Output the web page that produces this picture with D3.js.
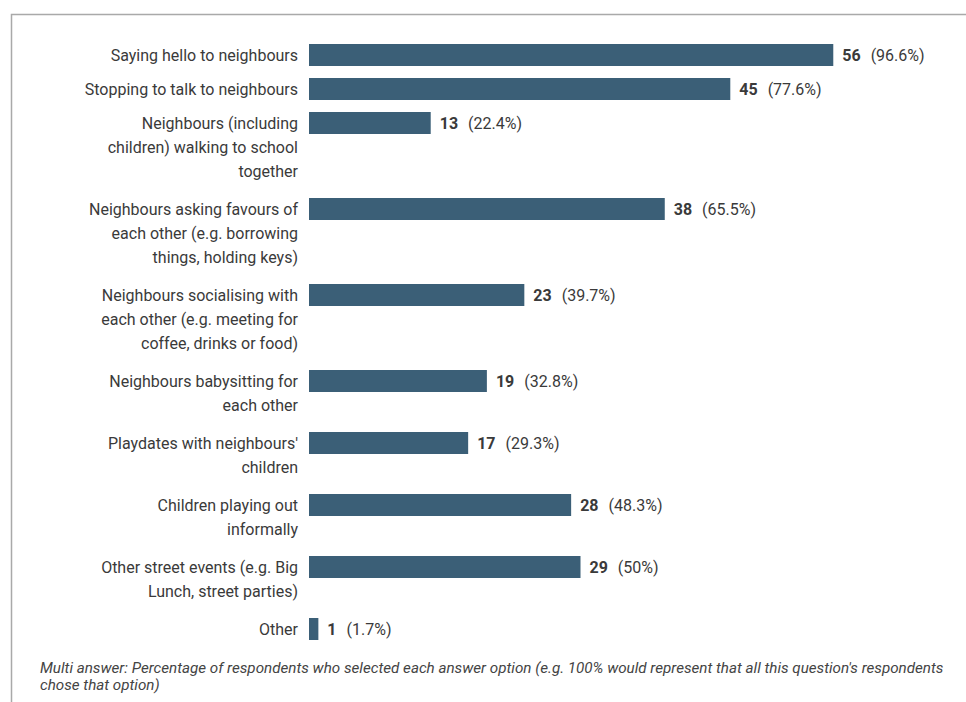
<html lang="en">
<head>
  <meta http-equiv="Content-Type" content="text/html; charset=utf-8" />
  <script src="https://cdn.jsdelivr.net/npm/d3@7"></script>
  <style>
    body { margin: 0; background: #fff; }
  </style>
</head>
<body>
  <div id="chart"></div>
  <script>
    'use strict';
    // categories, line breaks where the reference wraps them
    const categories = [
      "Saying hello to neighbours",
      "Stopping to talk to neighbours",
      "Neighbours (including\nchildren) walking to school\ntogether",
      "Neighbours asking favours of\neach other (e.g. borrowing\nthings, holding keys)",
      "Neighbours socialising with\neach other (e.g. meeting for\ncoffee, drinks or food)",
      "Neighbours babysitting for\neach other",
      "Playdates with neighbours'\nchildren",
      "Children playing out\ninformally",
      "Other street events (e.g. Big\nLunch, street parties)",
      "Other"
    ];
    const counts = [56, 45, 13, 38, 23, 19, 17, 28, 29, 1];
    const percents = ["96.6%", "77.6%", "22.4%", "65.5%", "39.7%", "32.8%", "29.3%", "48.3%", "50%", "1.7%"];
    const respondents = 58;
    const footnote = [
      "Multi answer: Percentage of respondents who selected each answer option (e.g. 100% would represent that all this question's respondents",
      "chose that option)"
    ];

    const width = 966;
    const height = 702;
    const barLeft = 309;
    const barWidthMax = 543;
    const barHeight = 22;
    const lineHeight = 24;
    const firstRowY = 44;
    const fontFamily = "Roboto, 'Noto Sans', sans-serif";
    const barColor = "#3b5f77";
    const textColor = "#3a3a3a";

    const svg = d3.select("#chart")
      .append("svg")
      .attr("width", width)
      .attr("height", height);

    // frame
    svg.append("path")
      .attr("d", `M11.5 ${height} L11.5 14.5 L${width + 2} 14.5`)
      .attr("fill", "none")
      .attr("stroke", "#a9a9a9")
      .attr("stroke-width", 1.5);

    const x = d3.scaleLinear().domain([0, respondents]).range([0, barWidthMax]);

    // row tops: rows grow with the number of label lines
    const rows = categories.map(c => c.split("\n"));
    const rowTops = [];
    let yy = firstRowY;
    rows.forEach(lines => {
      rowTops.push(yy);
      yy += lines.length === 1 ? barHeight + 12 : lines.length * lineHeight + 14;
    });

    const g = svg.selectAll("g.row")
      .data(categories.map((c, i) => ({ lines: rows[i], count: counts[i], pct: percents[i], y: rowTops[i] })))
      .join("g")
      .attr("class", "row")
      .attr("transform", d => `translate(0, ${d.y})`);

    g.append("rect")
      .attr("x", barLeft)
      .attr("y", 0)
      .attr("width", d => x(d.count))
      .attr("height", barHeight)
      .attr("fill", barColor);

    g.append("text")
      .attr("text-anchor", "end")
      .style("font-family", fontFamily)
      .style("font-size", "16px")
      .style("fill", textColor)
      .selectAll("tspan")
      .data(d => d.lines)
      .join("tspan")
      .attr("x", 298)
      .attr("y", (l, i) => barHeight / 2 + 5.5 + i * lineHeight)
      .text(l => l);

    const val = g.append("text")
      .attr("x", d => barLeft + x(d.count) + 9)
      .attr("y", barHeight / 2 + 5.5)
      .style("font-family", fontFamily)
      .style("font-size", "16px")
      .style("fill", textColor);
    val.append("tspan")
      .style("font-weight", "bold")
      .text(d => d.count);
    val.append("tspan")
      .attr("dx", 10)
      .text(d => `(${d.pct})`);

    svg.append("text")
      .style("font-family", fontFamily)
      .style("font-size", "15.2px")
      .style("font-style", "italic")
      .style("fill", "#444")
      .selectAll("tspan")
      .data(footnote)
      .join("tspan")
      .attr("x", 40)
      .attr("y", (l, i) => 673 + i * 17)
      .text(l => l);
  </script>
</body>
</html>
